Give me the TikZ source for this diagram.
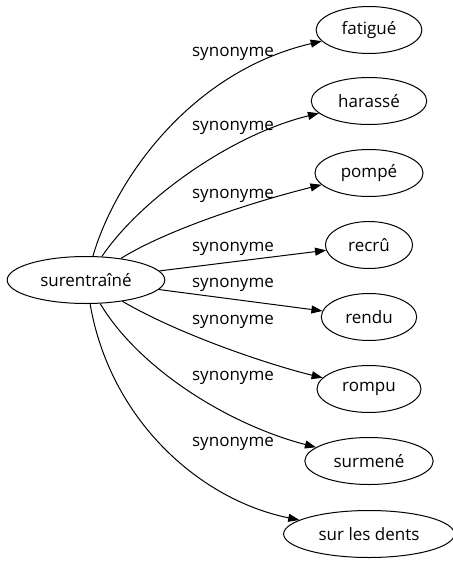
\documentclass[tikz,border=0pt]{standalone}
\usepackage{fontspec}
\setmainfont{Open Sans}
\usetikzlibrary{shapes.geometric, arrows.meta}

\begin{document}
\begin{tikzpicture}[x=1pt, y=-1pt,
      word/.style={draw, ellipse, line width=1pt, inner xsep=10pt, inner ysep=5pt,
         minimum height=47pt, font=\fontsize{17}{20}\selectfont},
      rel/.style={inner sep=0pt, font=\fontsize{17}{20}\selectfont},
      syn/.style={line width=1pt, -{Triangle[length=11pt, width=8pt]}}]
   \useasboundingbox (0,0) rectangle (453,563);
   % Headword
   \node[word] (surentraine) at (86,280) {surentraîné};
   % Synonyms
   \node[word] (fatigue) at (369,30) {fatigué};
   \node[word] (harasse) at (369,101) {harassé};
   \node[word] (pompe) at (369,173) {pompé};
   \node[word] (recru) at (369,245) {recrû};
   \node[word] (rendu) at (369,317) {rendu};
   \node[word] (rompu) at (369,389) {rompu};
   \node[word] (surmene) at (369,461) {surmené};
   \node[word] (dents) at (369,534) {sur les dents};
   % Edges
   \draw[syn] (surentraine) .. controls (115,180) and (190,72) .. (fatigue);
   \draw[syn] (surentraine) .. controls (140,200) and (230,135) .. (harasse);
   \draw[syn] (surentraine) .. controls (170,228) and (260,200) .. (pompe);
   \draw[syn] (surentraine) -- (recru);
   \draw[syn] (surentraine) -- (rendu);
   \draw[syn] (surentraine) .. controls (180,335) and (270,365) .. (rompu);
   \draw[syn] (surentraine) .. controls (140,370) and (230,425) .. (surmene);
   \draw[syn] (surentraine) .. controls (110,420) and (200,500) .. (dents);
   % Edge labels
   \node[rel] (l1) at (233,54) {synonyme};
   \node[rel] (l2) at (233,128) {synonyme};
   \node[rel] (l3) at (233,196) {synonyme};
   \node[rel] (l4) at (233,249) {synonyme};
   \node[rel] (l5) at (233,285) {synonyme};
   \node[rel] (l6) at (233,322) {synonyme};
   \node[rel] (l7) at (233,378) {synonyme};
   \node[rel] (l8) at (233,444) {synonyme};
\end{tikzpicture}
\end{document}
